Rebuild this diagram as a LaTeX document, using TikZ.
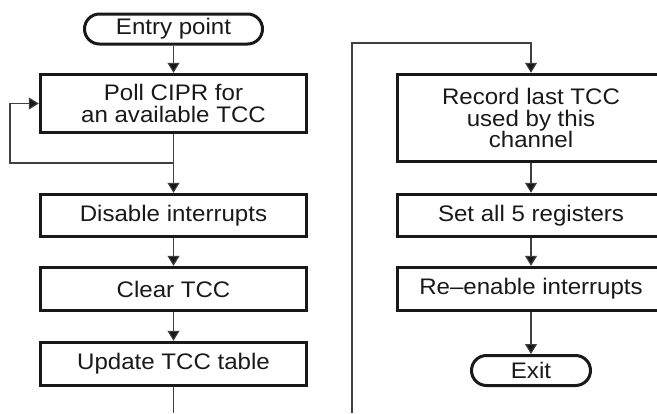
\documentclass[tikz,border=0pt]{standalone}
\usepackage{fontspec}
\setmainfont{Liberation Sans}[FakeStretch=1.07]
\usetikzlibrary{arrows.meta,positioning}

\tikzset{
  stepbox/.style={draw=black!90, line width=3.4pt, rectangle, align=center,
    font=\fontsize{22.5}{21.5}\selectfont, inner sep=0pt, text=black!90},
  terminal/.style={stepbox, line width=3pt, rounded corners=15pt},
  flow/.style={draw=black!75, line width=1.1pt},
  flowarrow/.style={flow, -{Triangle[length=10pt,width=12pt,fill=black!90]}},
}

\begin{document}
\begin{tikzpicture}[x=1pt,y=1pt]
\useasboundingbox (0,0) rectangle (657,-413);
\clip (0,0) rectangle (657,-413);

% left column
\node[terminal, minimum width=178, minimum height=30] (entry) at (173.5,-29) {Entry point};
\node[stepbox, minimum width=266, minimum height=58] (poll) at (173.5,-103.5) {Poll CIPR for\\an available TCC};
\node[stepbox, minimum width=266, minimum height=42] (disable) at (173.5,-215.5) {Disable interrupts};
\node[stepbox, minimum width=266, minimum height=43] (clear) at (173.5,-289) {Clear TCC};
\node[stepbox, minimum width=266, minimum height=43] (update) at (173.5,-364) {Update TCC table};

% right column (runs off the right edge)
\node[stepbox, minimum width=267, minimum height=87] (record) at (531,-118) {Record last TCC\\used by this\\channel};
\node[stepbox, minimum width=267, minimum height=42] (setall) at (531,-215.5) {Set all 5 registers};
\node[stepbox, minimum width=267, minimum height=43] (reenable) at (531,-289) {Re\textendash enable interrupts};
\node[terminal, minimum width=119, minimum height=30] (exit) at (531,-370.5) {Exit};

% junction and off-page coordinates
\coordinate (join) at (173.5,-163);
\coordinate (loopbl) at (10,-163);
\coordinate (looptl) at (10,-103.5);
\coordinate (leftend) at (173.5,-413);
\coordinate (rightstart) at (352,-413);
\coordinate (rightup) at (352,-43);
\coordinate (rightover) at (531,-43);

% connectors
\draw[flowarrow] (entry) -- (poll);
\draw[flowarrow] (poll) -- (disable);
\draw[flowarrow] (join) -- (loopbl) -- (looptl) -- (poll.west);
\draw[flowarrow] (disable) -- (clear);
\draw[flowarrow] (clear) -- (update);
\draw[flow] (update) -- (leftend);

\draw[flowarrow] (rightstart) -- (rightup) -- (rightover) -- (record.north);
\draw[flowarrow] (record) -- (setall);
\draw[flowarrow] (setall) -- (reenable);
\draw[flowarrow] (reenable) -- (exit);
\end{tikzpicture}
\end{document}
